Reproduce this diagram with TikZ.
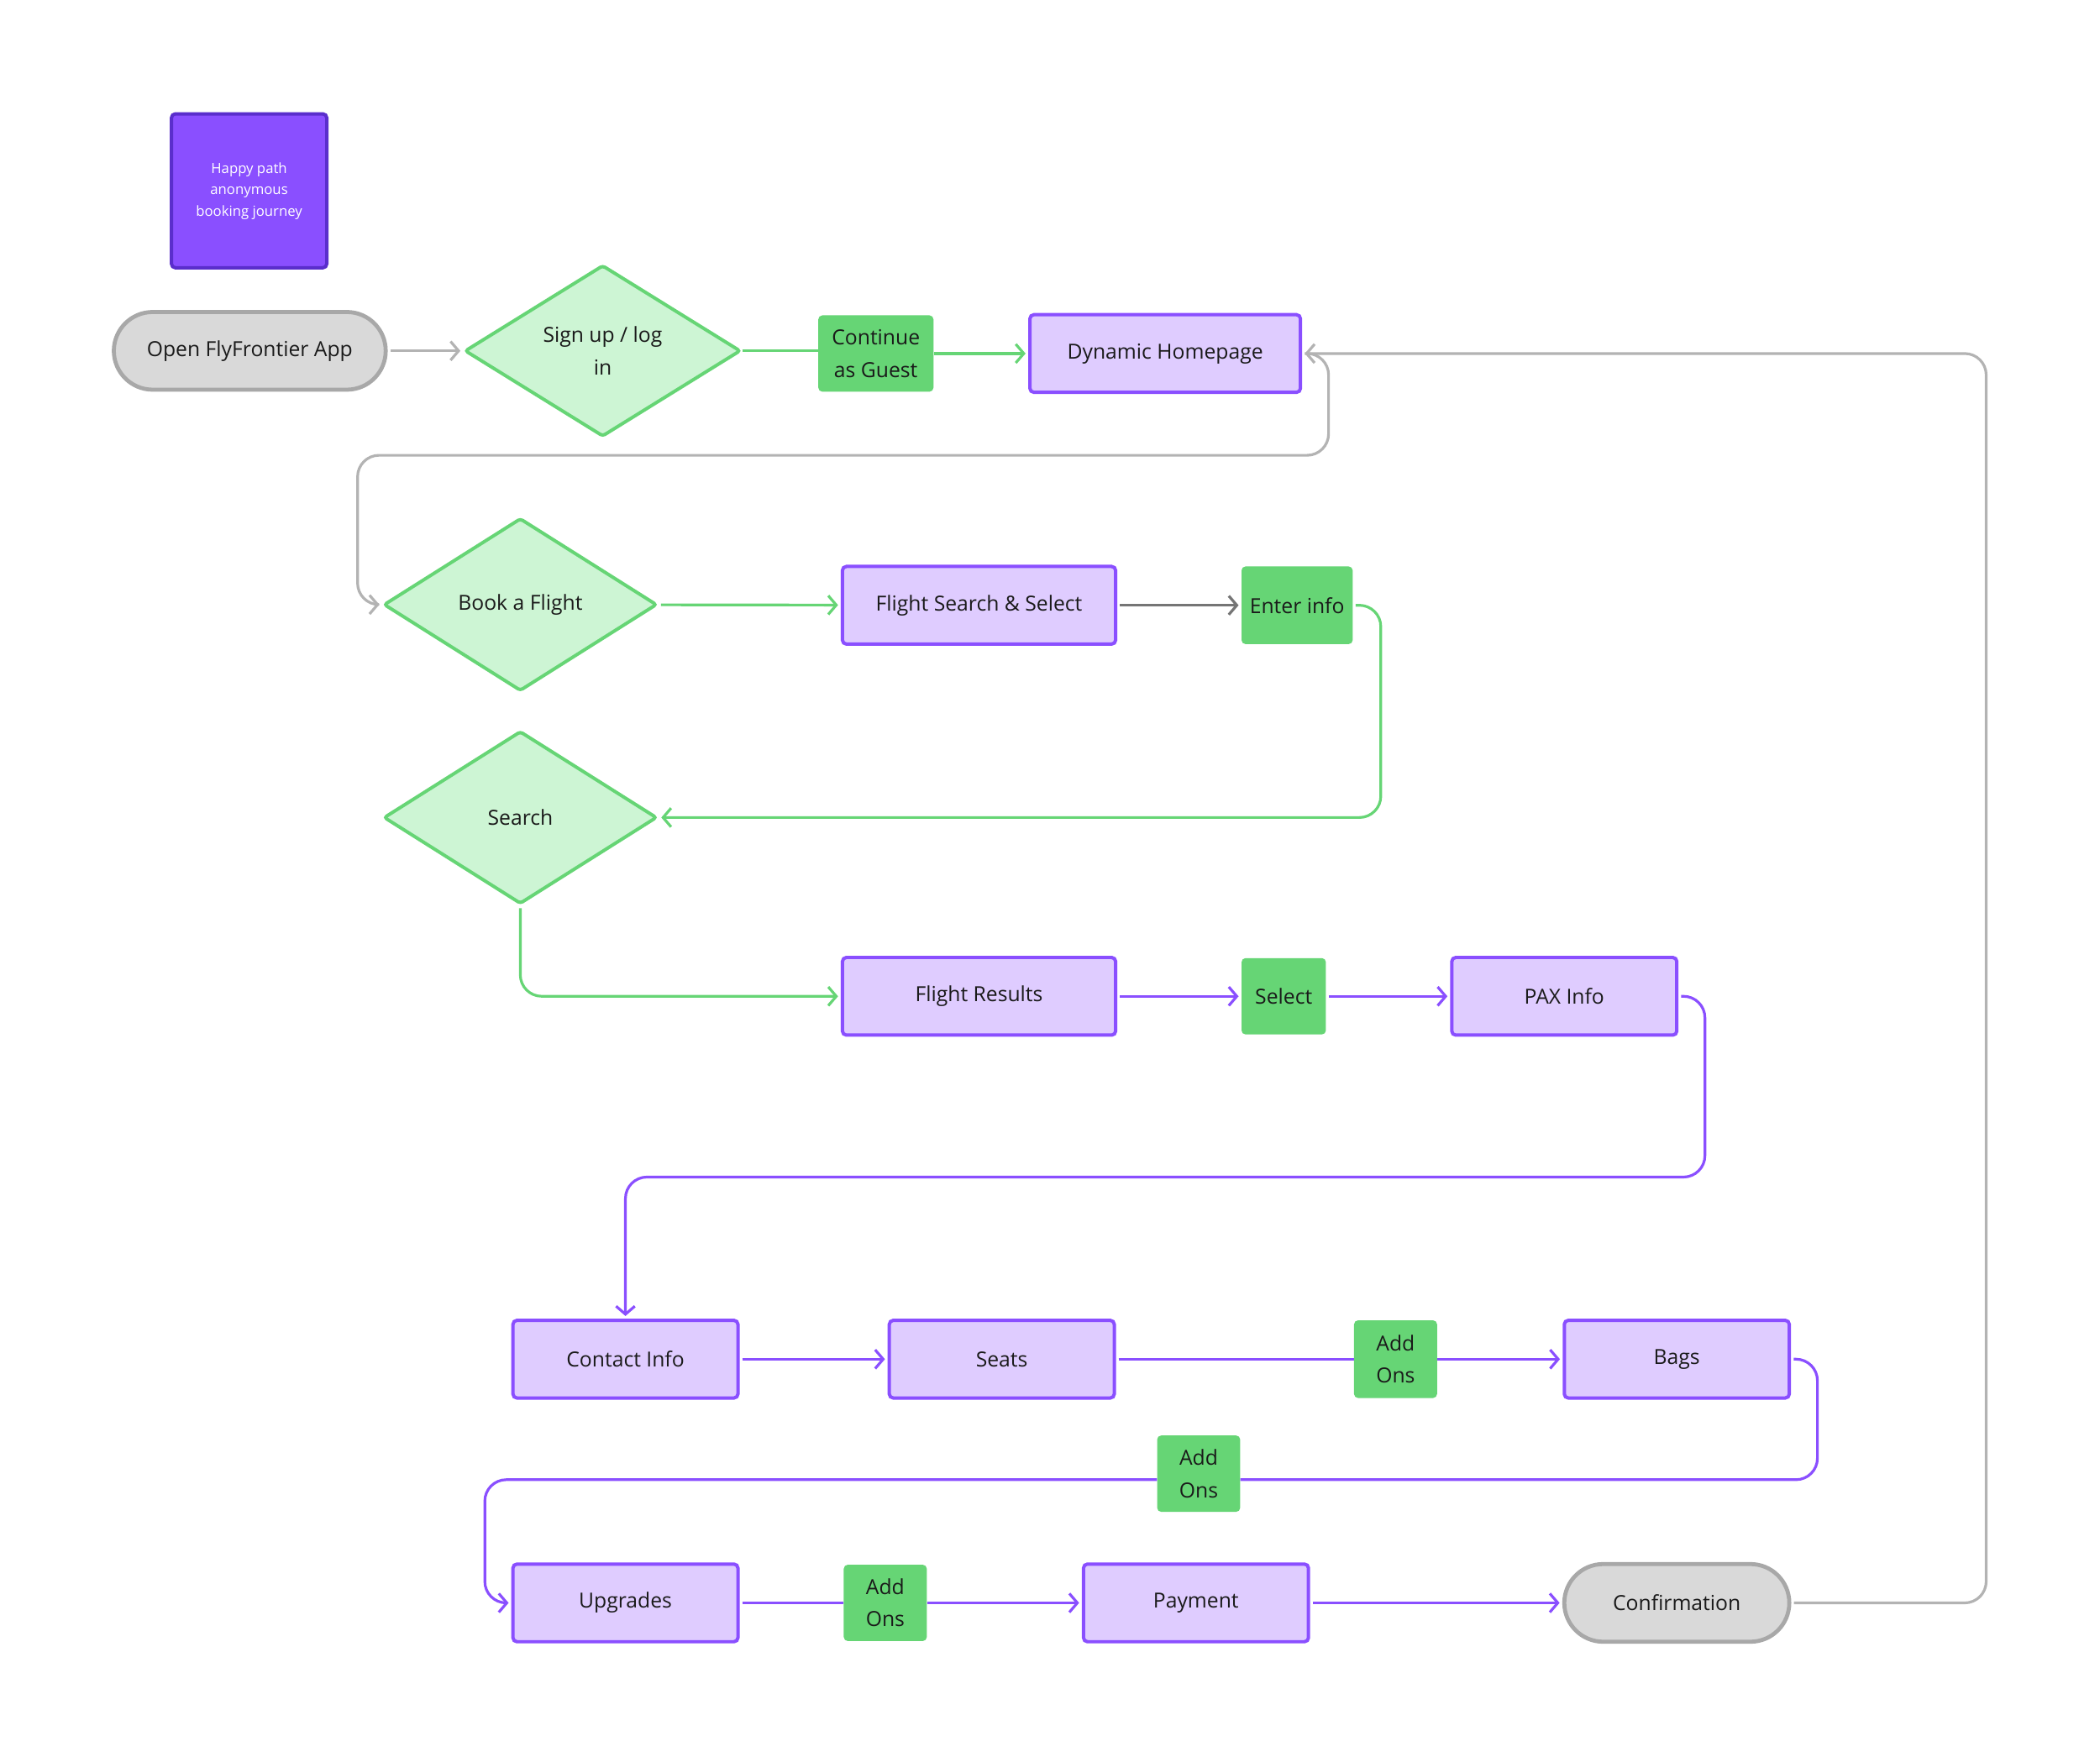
\documentclass[tikz,border=0pt]{standalone}
\usepackage{fontspec}
\setmainfont{Open Sans}
\usetikzlibrary{shapes.geometric,arrows.meta,calc}
\definecolor{purp}{HTML}{8A4FFF}
\definecolor{lav}{HTML}{DFCCFF}
\definecolor{gfill}{HTML}{66D575}
\definecolor{gline}{HTML}{66D575}
\definecolor{gdia}{HTML}{CDF5D4}
\definecolor{gpill}{HTML}{D9D9D9}
\definecolor{gbord}{HTML}{A8A8A8}
\definecolor{grayc}{HTML}{B3B3B3}
\definecolor{dgray}{HTML}{757575}
\definecolor{legfill}{HTML}{8A4FFF}
\definecolor{legbord}{HTML}{5A2ECC}
\definecolor{txt}{HTML}{1A1A1A}
\begin{document}
\begin{tikzpicture}[x=1pt,y=-1pt,
  base/.style={font=\fontsize{15.5}{24}\selectfont, text=txt, align=center, inner sep=0pt},
  proc/.style={base, draw=purp, fill=lav, line width=2.5pt, rounded corners=3pt, minimum height=58pt},
  tag/.style={base, fill=gfill, rounded corners=3pt, minimum height=57pt},
  dec/.style={base, diamond, draw=gline, fill=gdia, line width=2.5pt, minimum width=204pt, minimum height=129pt, rounded corners=2pt},
  term/.style={base, draw=gbord, fill=gpill, line width=3pt, rounded corners=29pt, minimum height=58pt},
  legend/.style={font=\fontsize{10.5}{16}\selectfont, text=white, align=center, inner sep=0pt, fill=legfill, draw=legbord, line width=2.5pt, rounded corners=3pt},
  wire/.style={line width=2pt, rounded corners=16pt},
  conn/.style={wire, -{Straight Barb[length=6pt,width=14pt,line width=2pt]}, shorten >=2pt, shorten <=2pt},
]
\useasboundingbox[fill=white] (0,0) rectangle (1568,1311.5);

% nodes
\node[legend, minimum width=116pt, minimum height=115pt] (leg) at (186,142.5) {Happy path\\anonymous\\booking journey};
\node[term, minimum width=203pt] (open) at (186.5,262) {Open FlyFrontier App};
\node[dec, minimum width=206pt, minimum height=128pt] (sign) at (450,262) {Sign up / log\\in};
\node[tag, minimum width=86pt] (cg) at (654,264) {Continue\\as Guest};
\node[proc, minimum width=202pt] (dyn) at (870,264) {Dynamic Homepage};

\node[dec] (book) at (388.5,451.5) {Book a Flight};
\node[proc, minimum width=204pt] (fss) at (731,452) {Flight Search \& Select};
\node[tag, minimum width=83pt, minimum height=58pt] (ei) at (968.5,452) {Enter info};

\node[dec] (search) at (388.5,610.5) {Search};

\node[proc, minimum width=204pt] (fr) at (731,744) {Flight Results};
\node[tag, minimum width=63pt] (sel) at (958.5,744) {Select};
\node[proc, minimum width=168pt] (pax) at (1168,744) {PAX Info};

\node[proc, minimum width=168pt] (ci) at (467,1015) {Contact Info};
\node[proc, minimum width=168pt] (seats) at (748,1015) {Seats};
\node[tag, minimum width=62pt, minimum height=58pt] (ao1) at (1042,1015) {Add\\Ons};
\node[proc, minimum width=168pt] (bags) at (1252,1015) {Bags};

\node[tag, minimum width=62pt] (ao2) at (895,1100.5) {Add\\Ons};

\node[proc, minimum width=168pt] (upg) at (467,1197) {Upgrades};
\node[tag, minimum width=62pt] (ao3) at (661,1197) {Add\\Ons};
\node[proc, minimum width=168pt] (pay) at (893,1197) {Payment};
\node[term, minimum width=168pt] (conf) at (1252,1197) {Confirmation};

% bend coordinates
\coordinate (r1) at (992,340);
\coordinate (l1) at (267,340);
\coordinate (r2) at (1031,610.5);
\coordinate (r3) at (1273,879);
\coordinate (l3) at (467,879);
\coordinate (r4) at (1357,1105);
\coordinate (l4) at (362,1105);
\coordinate (r5) at (1483,264);

% connectors
\draw[conn, grayc] (open) -- (sign);
\draw[wire, gline] (sign.east) -- (sign.east -| cg.west);
\draw[conn, gline, shorten <=0pt] (cg.east) -- (dyn.west);
\draw[conn, grayc] (dyn.east) -| (r1) -- (l1) |- (book.west);
\draw[conn, gline] (book) -- (fss);
\draw[conn, dgray] (fss) -- (ei);
\draw[conn, gline] (ei.east) -| (r2) -- (search.east);
\draw[conn, gline] (search.south) |- (fr.west);
\draw[conn, purp] (fr) -- (sel);
\draw[conn, purp] (sel) -- (pax);
\draw[conn, purp] (pax.east) -| (r3) -- (l3) -- (ci.north);
\draw[conn, purp] (ci) -- (seats);
\draw[wire, purp, shorten <=2pt] (seats.east) -- (ao1.west);
\draw[conn, purp, shorten <=0pt] (ao1.east) -- (bags.west);
\draw[wire, purp, shorten <=2pt] (bags.east) -| (r4) -- (ao2.east |- r4);
\draw[conn, purp, shorten <=0pt] (ao2.west |- r4) -- (l4) |- (upg.west);
\draw[wire, purp, shorten <=2pt] (upg.east) -- (ao3.west);
\draw[conn, purp, shorten <=0pt] (ao3.east) -- (pay.west);
\draw[conn, purp] (pay) -- (conf);
\draw[conn, grayc] (conf.east) -| (r5) -- (dyn.east);
\end{tikzpicture}
\end{document}
